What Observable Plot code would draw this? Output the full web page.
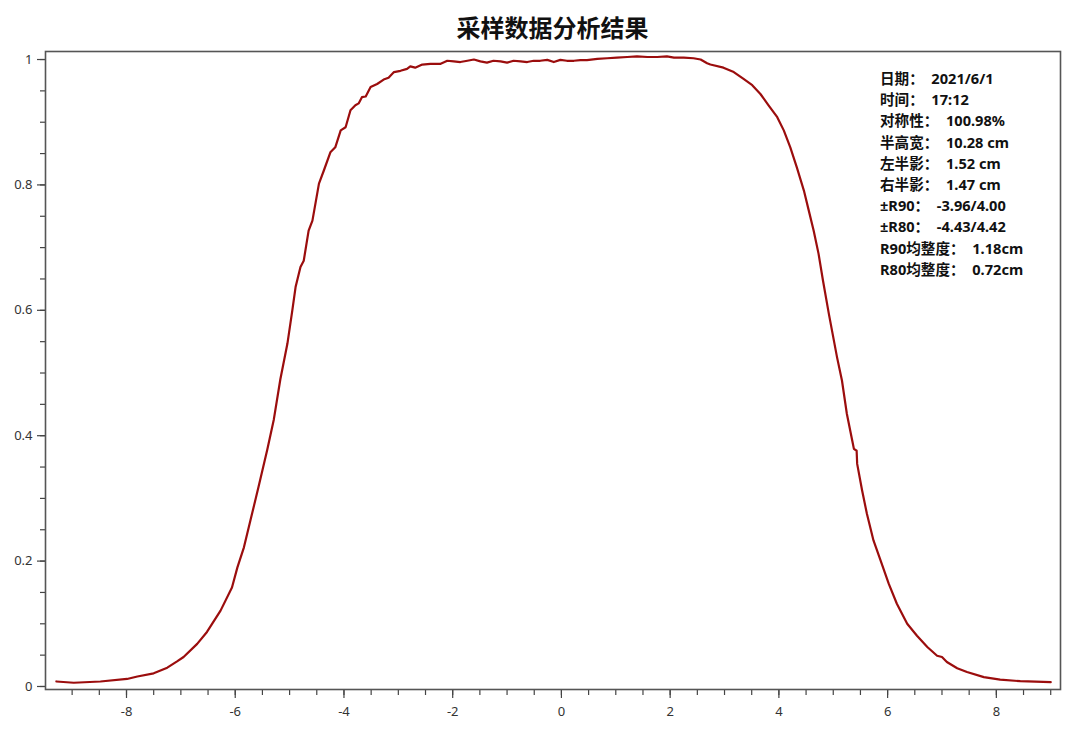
<!DOCTYPE html>
<html>
<head>
<meta charset="utf-8">
<script src="https://cdn.jsdelivr.net/npm/d3@7"></script>
<script src="https://cdn.jsdelivr.net/npm/@observablehq/plot@0.6"></script>
<style>
  html, body { margin: 0; padding: 0; background: #fff; }
  #wrap { position: relative; width: 1069px; height: 733px; overflow: hidden; }
  #title { position: absolute; left: 45px; width: 1015px; top: 12px; height: 30px; line-height: 30px;
    text-align: center; font-family: "Noto Sans CJK SC", sans-serif; font-weight: bold; font-size: 24px; color: #111; }
  #chart { position: absolute; left: 0; top: 45px; }
  #notes { position: absolute; left: 880px; top: 68px; font-family: "Noto Sans", "Noto Sans CJK SC", sans-serif;
    font-weight: bold; font-size: 14.6px; line-height: 21.2px; color: #111; white-space: pre; }
</style>
</head>
<body>
<div id="wrap">
  <div id="title"></div>
  <div id="chart"></div>
  <div id="notes"></div>
</div>
<script>
const titleText = "采样数据分析结果";

const positionCm = [-9.29,-8.97,-8.48,-7.99,-7.80,-7.50,-7.25,-7.07,-6.95,-6.70,
  -6.52,-6.27,-6.06,-5.96,-5.84,-5.72,-5.57,-5.41,-5.29,-5.17,
  -5.04,-4.95,-4.89,-4.80,-4.74,-4.65,-4.58,-4.46,-4.37,-4.25,
  -4.16,-4.06,-3.97,-3.88,-3.79,-3.73,-3.67,-3.60,-3.51,-3.39,
  -3.27,-3.18,-3.08,-2.96,-2.84,-2.78,-2.69,-2.56,-2.41,-2.23,
  -2.10,-1.98,-1.86,-1.73,-1.61,-1.49,-1.37,-1.25,-1.12,-1.00,
  -0.88,-0.75,-0.63,-0.51,-0.39,-0.26,-0.14,-0.02,0.10,0.23,
  0.35,0.47,0.66,0.84,1.02,1.21,1.39,1.58,1.76,1.94,
  2.07,2.25,2.43,2.56,2.68,2.74,2.98,3.17,3.35,3.51,
  3.66,3.81,3.97,4.09,4.21,4.33,4.46,4.55,4.64,4.73,
  4.81,4.92,5.07,5.16,5.25,5.35,5.38,5.43,5.44,5.53,
  5.62,5.74,5.87,6.02,6.17,6.36,6.54,6.73,6.91,7.00,
  7.09,7.28,7.46,7.77,8.07,8.44,9.00];

const relativeValue = [0.008,0.006,0.008,0.012,0.016,0.021,0.030,0.040,0.047,0.068,
  0.087,0.121,0.158,0.190,0.222,0.265,0.319,0.378,0.426,0.490,
  0.547,0.600,0.637,0.669,0.679,0.727,0.743,0.802,0.823,0.852,
  0.860,0.887,0.892,0.919,0.927,0.930,0.940,0.941,0.956,0.961,
  0.968,0.971,0.980,0.982,0.985,0.989,0.987,0.992,0.993,0.993,
  0.998,0.997,0.996,0.998,1.000,0.997,0.995,0.998,0.997,0.995,
  0.998,0.997,0.996,0.998,0.998,0.9995,0.996,0.9995,0.998,0.998,
  0.999,0.999,1.001,1.002,1.003,1.004,1.005,1.004,1.004,1.005,
  1.003,1.003,1.002,1.000,0.994,0.992,0.987,0.980,0.969,0.959,
  0.945,0.927,0.908,0.887,0.860,0.828,0.791,0.759,0.727,0.690,
  0.648,0.594,0.525,0.488,0.435,0.392,0.379,0.376,0.355,0.313,
  0.275,0.233,0.201,0.164,0.132,0.100,0.081,0.063,0.049,0.047,
  0.039,0.029,0.023,0.015,0.011,0.0085,0.007];

const xMajorTicks = [-8, -6, -4, -2, 0, 2, 4, 6, 8];
const xMinorTicks = d3.range(-9, 9.01, 0.5);
const yMajorTicks = [0, 0.2, 0.4, 0.6, 0.8, 1];
const yMinorTicks = d3.range(0, 1.001, 0.05);

const noteLines = [
  "日期：  2021/6/1",
  "时间：  17:12",
  "对称性：  100.98%",
  "半高宽：  10.28 cm",
  "左半影：  1.52 cm",
  "右半影：  1.47 cm",
  "±R90：  -3.96/4.00",
  "±R80：  -4.43/4.42",
  "R90均整度：  1.18cm",
  "R80均整度：  0.72cm"
];

const data = positionCm.map((x, i) => ({x, y: relativeValue[i]}));

document.getElementById("title").textContent = titleText;
document.getElementById("notes").textContent = noteLines.join("\n");

const fmt = d => String(+d.toFixed(2));

const chart = Plot.plot({
  width: 1069,
  height: 688,
  marginTop: 6,
  marginBottom: 44,
  marginLeft: 45,
  marginRight: 9,
  style: {fontFamily: "'Noto Sans', sans-serif", fontSize: "13px", color: "#333", background: "#fff"},
  x: {domain: [-9.49, 9.18], label: null},
  y: {domain: [-0.0048, 1.0128], label: null},
  marks: [
    Plot.axisX({ticks: xMinorTicks, tickSize: 6, text: null, label: null, stroke: "#444", strokeWidth: 1.2}),
    Plot.axisX({ticks: xMajorTicks, tickSize: 9, tickPadding: 8, tickFormat: fmt, label: null, stroke: "#444", strokeWidth: 1.2, fill: "#333"}),
    Plot.axisY({ticks: yMinorTicks, tickSize: 5, text: null, label: null, stroke: "#444", strokeWidth: 1.2}),
    Plot.axisY({ticks: yMajorTicks, tickSize: 8, tickPadding: 5, tickFormat: fmt, label: null, stroke: "#444", strokeWidth: 1.2, fill: "#333"}),
    Plot.line(data, {x: "x", y: "y", stroke: "#9b0d0d", strokeWidth: 2.2}),
    Plot.frame({stroke: "#555", strokeWidth: 1.6})
  ]
});
document.getElementById("chart").appendChild(chart);
</script>
</body>
</html>
